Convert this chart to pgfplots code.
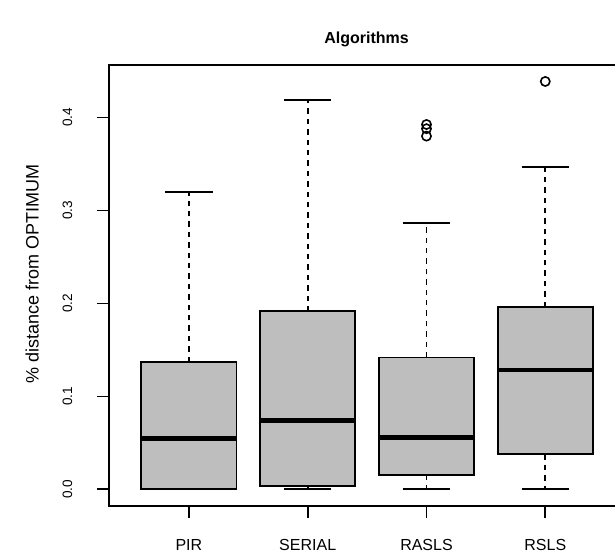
\documentclass[border=0pt]{standalone}
\usepackage{pgfplots}
\pgfplotsset{compat=1.18}
\usepackage{fontspec}
\setmainfont{Liberation Sans}
\definecolor{boxgray}{HTML}{BEBEBE}
\pgfplotsset{
  rbox/.style={draw=black, fill=boxgray, line width=0.9pt},
  rmed/.style={draw=black, line width=2.3pt},
  rwhisk/.style={draw=black, line width=0.9pt, dash pattern=on 2.7pt off 2.5pt},
  rcap/.style={draw=black, line width=0.9pt},
}

\begin{document}
\begin{tikzpicture}
\begin{axis}[
    at={(0,0)}, anchor=south west,
    scale only axis, width=257.2pt, height=220.35pt,
    xmin=0.33, xmax=4.66, ymin=-0.01756, ymax=0.4565,
    xtick={1,2,3,4}, xticklabels={PIR,SERIAL,RASLS,RSLS},
    ytick={0,0.1,0.2,0.3,0.4},
    tick pos=left, tick align=outside, major tick length=6.25pt,
    tick style={black, line width=0.9pt},
    axis line style={line width=0.9pt},
    /pgf/number format/assume math mode=true,
    xticklabel style={font=\fontsize{8}{9}\selectfont, anchor=north, inner sep=0pt},
    yticklabel style={font=\fontsize{6.8}{8}\selectfont, rotate=90, anchor=south, inner sep=0pt},
    y tick label style={/pgf/number format/fixed, /pgf/number format/fixed zerofill, /pgf/number format/precision=1},
    xticklabel shift=10.45pt, yticklabel shift=12.05pt,
    title=Algorithms,
    title style={font=\bfseries\fontsize{8}{9}\selectfont, at={(axis description cs:0.5,1.032)}, anchor=center},
    ylabel={\% distance from OPTIMUM},
    ylabel style={font=\fontsize{9}{10}\selectfont, at={(axis description cs:-0.150,0.525)}, anchor=center},
]
% PIR
\addplot[rwhisk] coordinates {(1,0.137) (1,0.320)};
\addplot[rcap] coordinates {(0.8,0.320) (1.2,0.320)};
\addplot[rcap] coordinates {(0.8,0) (1.2,0)};
\addplot[rbox] coordinates {(0.6,0) (1.4,0) (1.4,0.137) (0.6,0.137)} -- cycle;
\addplot[rmed] coordinates {(0.6,0.0546) (1.4,0.0546)};
% SERIAL
\addplot[rwhisk] coordinates {(2,0.1915) (2,0.419)};
\addplot[rwhisk] coordinates {(2,0.0036) (2,0)};
\addplot[rcap] coordinates {(1.8,0.419) (2.2,0.419)};
\addplot[rcap] coordinates {(1.8,0) (2.2,0)};
\addplot[rbox] coordinates {(1.6,0.0036) (2.4,0.0036) (2.4,0.1915) (1.6,0.1915)} -- cycle;
\addplot[rmed] coordinates {(1.6,0.0744) (2.4,0.0744)};
% RASLS
\addplot[rwhisk] coordinates {(3,0.1419) (3,0.2868)};
\addplot[rwhisk] coordinates {(3,0.0154) (3,0)};
\addplot[rcap] coordinates {(2.8,0.2868) (3.2,0.2868)};
\addplot[rcap] coordinates {(2.8,0) (3.2,0)};
\addplot[rbox] coordinates {(2.6,0.0154) (3.4,0.0154) (3.4,0.1419) (2.6,0.1419)} -- cycle;
\addplot[rmed] coordinates {(2.6,0.0561) (3.4,0.0561)};
% RSLS
\addplot[rwhisk] coordinates {(4,0.1962) (4,0.3468)};
\addplot[rwhisk] coordinates {(4,0.0377) (4,0)};
\addplot[rcap] coordinates {(3.8,0.3468) (4.2,0.3468)};
\addplot[rcap] coordinates {(3.8,0) (4.2,0)};
\addplot[rbox] coordinates {(3.6,0.0377) (4.4,0.0377) (4.4,0.1962) (3.6,0.1962)} -- cycle;
\addplot[rmed] coordinates {(3.6,0.1283) (4.4,0.1283)};
% outliers
\addplot[only marks, mark=o, mark size=2.3pt, mark options={draw=black, line width=0.8pt}]
  coordinates {(3,0.3925) (3,0.388) (3,0.380) (4,0.4388)};
\end{axis}
\pgfresetboundingbox
\path[use as bounding box] (-54.65pt,-26.65pt) rectangle (252.85pt,252.85pt);
\end{tikzpicture}
\end{document}
